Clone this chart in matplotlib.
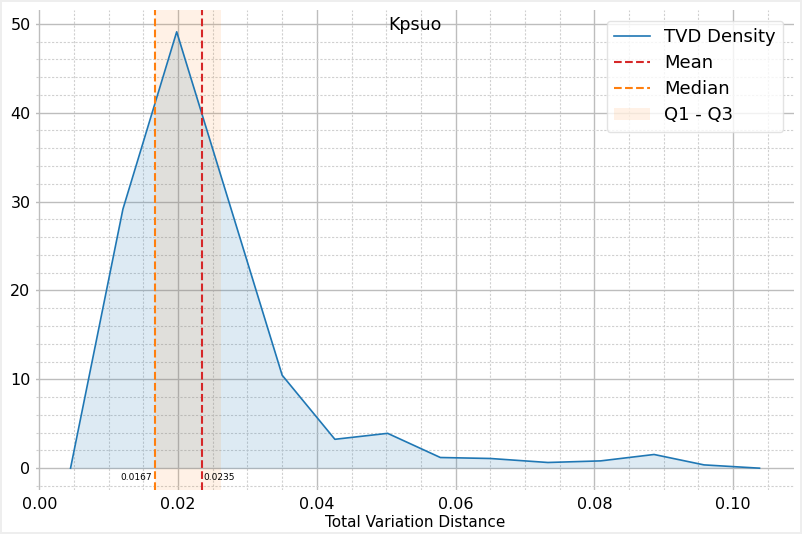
import matplotlib
matplotlib.use("Agg")
import matplotlib.pyplot as plt
from matplotlib.ticker import MultipleLocator, FormatStrFormatter

# 读取自图中的数据
tvd_x = [0.0045, 0.01205, 0.0198, 0.0350, 0.0426, 0.0502, 0.0578,
         0.0650, 0.0733, 0.0809, 0.0886, 0.0958, 0.1038]
tvd_density = [0.0, 29.15, 49.1, 10.46, 3.25, 3.92, 1.2,
               1.09, 0.64, 0.82, 1.54, 0.37, 0.0]
mean_val = 0.0235
median_val = 0.0167
q1_val = 0.0167
q3_val = 0.0262
title = "Kpsuo"

fig = plt.figure(figsize=(8.02, 5.34), dpi=100)
fig.patch.set_edgecolor("#eeeeee")
fig.patch.set_linewidth(1.5)
ax = fig.add_axes([0.045, 0.0824, 0.945, 0.8989])

ax.plot(tvd_x, tvd_density, color="#1f77b4", lw=1.2, label="TVD Density", zorder=3)
ax.fill_between(tvd_x, tvd_density, color="#1f77b4", alpha=0.15, lw=0)
ax.axvline(mean_val, color="#d62728", ls="--", lw=1.5, label="Mean", zorder=4)
ax.axvline(median_val, color="#ff7f0e", ls="--", lw=1.5, label="Median", zorder=4)
ax.axvspan(q1_val, q3_val, color="#ff7f0e", alpha=0.1, lw=0, label="Q1 - Q3")

ax.text(median_val - 0.0004, -1.1, f"{median_val:.4f}", ha="right", va="center", fontsize=6.5)
ax.text(mean_val + 0.0001, -1.1, f"{mean_val:.4f}", ha="left", va="center", fontsize=6.5)

ax.set_title(title, fontsize=12.5, y=0.94)
ax.set_xlabel("Total Variation Distance", fontsize=11, labelpad=2)

ax.xaxis.set_major_locator(MultipleLocator(0.02))
ax.xaxis.set_minor_locator(MultipleLocator(0.005))
ax.yaxis.set_major_locator(MultipleLocator(10))
ax.yaxis.set_minor_locator(MultipleLocator(2))
ax.xaxis.set_major_formatter(FormatStrFormatter("%.2f"))
ax.grid(which="major", color="#bdbdbd", lw=1.0, ls="-")
ax.grid(which="minor", color="#d0d0d0", lw=0.8, ls=(0, (2, 1.5)))
ax.set_axisbelow(True)
ax.tick_params(which="both", length=0, labelsize=11.5)
ax.tick_params(axis="x", pad=5)
ax.tick_params(axis="y", pad=4)
for sp in ax.spines.values():
    sp.set_visible(False)

leg = ax.legend(loc="upper right", fontsize=13, framealpha=0.8, edgecolor="#dddddd",
                borderaxespad=0.6, labelspacing=0.45)

fig.savefig("out.png", dpi=100)
